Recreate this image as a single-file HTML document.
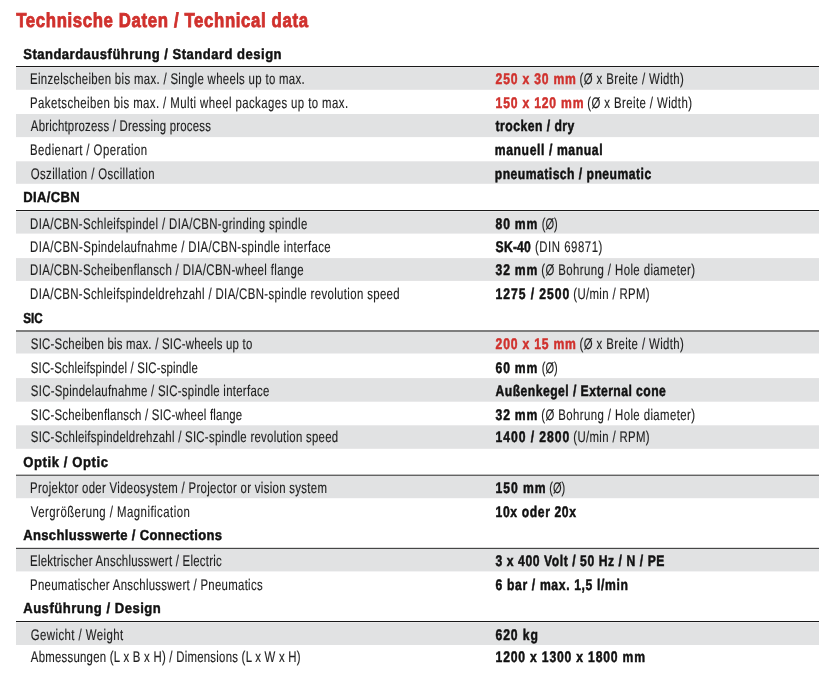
<!DOCTYPE html><html><head><meta charset="utf-8"><style>html,body{margin:0;padding:0;background:#fff;overflow:hidden}svg{display:block;will-change:transform}text{font-family:"Liberation Sans",sans-serif;}</style></head><body>
<svg width="832" height="686" viewBox="0 0 832 686" text-rendering="geometricPrecision">
<rect x="0" y="0" width="832" height="686" fill="#fff"/>
<rect x="16.0" y="67.20" width="803.0" height="22.60" fill="#e1e2e3"/>
<rect x="16.0" y="114.00" width="803.0" height="23.10" fill="#e1e2e3"/>
<rect x="16.0" y="161.30" width="803.0" height="22.50" fill="#e1e2e3"/>
<rect x="16.0" y="66.00" width="803.0" height="1.00" fill="#1a1a1a"/>
<rect x="16.0" y="211.30" width="803.0" height="22.30" fill="#e1e2e3"/>
<rect x="16.0" y="258.10" width="803.0" height="22.80" fill="#e1e2e3"/>
<rect x="16.0" y="210.00" width="803.0" height="1.00" fill="#1a1a1a"/>
<rect x="16.0" y="332.00" width="803.0" height="21.50" fill="#e1e2e3"/>
<rect x="16.0" y="378.10" width="803.0" height="23.60" fill="#e1e2e3"/>
<rect x="16.0" y="425.30" width="803.0" height="23.50" fill="#e1e2e3"/>
<rect x="16.0" y="330.44" width="803.0" height="1.12" fill="#1a1a1a"/>
<rect x="16.0" y="476.00" width="803.0" height="22.20" fill="#e1e2e3"/>
<rect x="16.0" y="474.72" width="803.0" height="0.95" fill="#1a1a1a"/>
<rect x="16.0" y="549.00" width="803.0" height="22.40" fill="#e1e2e3"/>
<rect x="16.0" y="547.85" width="803.0" height="0.95" fill="#1a1a1a"/>
<rect x="16.0" y="622.30" width="803.0" height="22.70" fill="#e1e2e3"/>
<rect x="16.0" y="621.00" width="803.0" height="1.00" fill="#1a1a1a"/>
<text transform="matrix(0.8400 0 0 1 16.20 26.70)" font-size="20.0" font-weight="bold" fill="#d0312d" stroke="#d0312d" stroke-width="0.8" vector-effect="non-scaling-stroke" letter-spacing="0.736">Technische Daten / Technical data</text>
<text transform="matrix(0.9000 0 0 1 23.20 59.40)" font-size="14.5" font-weight="bold" fill="#111111" stroke="#111111" stroke-width="0.45" vector-effect="non-scaling-stroke" letter-spacing="0.537">Standardausführung / Standard design</text>
<text transform="matrix(0.7400 0 0 1 30.06 83.70)" font-size="15.4" fill="#1f1f1f" stroke="#1f1f1f" stroke-width="0.15" vector-effect="non-scaling-stroke" letter-spacing="0.452">Einzelscheiben bis max. / Single wheels up to max.</text>
<text transform="matrix(0.7900 0 0 1 495.60 83.70)" font-size="15.4" font-weight="bold" fill="#d0312d" stroke="#d0312d" stroke-width="0.5" vector-effect="non-scaling-stroke" letter-spacing="1.002">250 x 30 mm</text>
<text transform="matrix(0.7400 0 0 1 579.60 83.70)" font-size="15.4" fill="#1f1f1f" stroke="#1f1f1f" stroke-width="0.15" vector-effect="non-scaling-stroke" letter-spacing="0.531">(Ø x Breite / Width)</text>
<text transform="matrix(0.7400 0 0 1 30.06 107.50)" font-size="15.4" fill="#1f1f1f" stroke="#1f1f1f" stroke-width="0.15" vector-effect="non-scaling-stroke" letter-spacing="0.565">Paketscheiben bis max. / Multi wheel packages up to max.</text>
<text transform="matrix(0.7900 0 0 1 495.60 107.50)" font-size="15.4" font-weight="bold" fill="#d0312d" stroke="#d0312d" stroke-width="0.5" vector-effect="non-scaling-stroke" letter-spacing="1.007">150 x 120 mm</text>
<text transform="matrix(0.7400 0 0 1 587.20 107.50)" font-size="15.4" fill="#1f1f1f" stroke="#1f1f1f" stroke-width="0.15" vector-effect="non-scaling-stroke" letter-spacing="0.567">(Ø x Breite / Width)</text>
<text transform="matrix(0.7400 0 0 1 30.80 131.30)" font-size="15.4" fill="#1f1f1f" stroke="#1f1f1f" stroke-width="0.15" vector-effect="non-scaling-stroke" letter-spacing="0.311">Abrichtprozess / Dressing process</text>
<text transform="matrix(0.7900 0 0 1 495.60 131.30)" font-size="15.4" font-weight="bold" fill="#111111" stroke="#111111" stroke-width="0.5" vector-effect="non-scaling-stroke" letter-spacing="0.599">trocken / dry</text>
<text transform="matrix(0.7400 0 0 1 30.06 154.55)" font-size="15.4" fill="#1f1f1f" stroke="#1f1f1f" stroke-width="0.15" vector-effect="non-scaling-stroke" letter-spacing="0.594">Bedienart / Operation</text>
<text transform="matrix(0.7900 0 0 1 494.81 154.55)" font-size="15.4" font-weight="bold" fill="#111111" stroke="#111111" stroke-width="0.5" vector-effect="non-scaling-stroke" letter-spacing="0.765">manuell / manual</text>
<text transform="matrix(0.7400 0 0 1 30.80 178.80)" font-size="15.4" fill="#1f1f1f" stroke="#1f1f1f" stroke-width="0.15" vector-effect="non-scaling-stroke" letter-spacing="0.521">Oszillation / Oscillation</text>
<text transform="matrix(0.7900 0 0 1 494.81 178.80)" font-size="15.4" font-weight="bold" fill="#111111" stroke="#111111" stroke-width="0.5" vector-effect="non-scaling-stroke" letter-spacing="0.599">pneumatisch / pneumatic</text>
<text transform="matrix(0.9000 0 0 1 23.20 201.80)" font-size="14.5" font-weight="bold" fill="#111111" stroke="#111111" stroke-width="0.45" vector-effect="non-scaling-stroke" letter-spacing="0.380">DIA/CBN</text>
<text transform="matrix(0.7400 0 0 1 30.06 228.80)" font-size="15.4" fill="#1f1f1f" stroke="#1f1f1f" stroke-width="0.15" vector-effect="non-scaling-stroke" letter-spacing="0.499">DIA/CBN-Schleifspindel / DIA/CBN-grinding spindle</text>
<text transform="matrix(0.7900 0 0 1 495.60 228.80)" font-size="15.4" font-weight="bold" fill="#111111" stroke="#111111" stroke-width="0.5" vector-effect="non-scaling-stroke" letter-spacing="0.986">80 mm</text>
<text transform="matrix(0.7196 0 0 1 541.70 228.80)" font-size="15.4" fill="#1f1f1f" stroke="#1f1f1f" stroke-width="0.15" vector-effect="non-scaling-stroke">(Ø)</text>
<text transform="matrix(0.7400 0 0 1 30.06 251.50)" font-size="15.4" fill="#1f1f1f" stroke="#1f1f1f" stroke-width="0.15" vector-effect="non-scaling-stroke" letter-spacing="0.527">DIA/CBN-Spindelaufnahme / DIA/CBN-spindle interface</text>
<text transform="matrix(0.7900 0 0 1 495.60 251.50)" font-size="15.4" font-weight="bold" fill="#111111" stroke="#111111" stroke-width="0.5" vector-effect="non-scaling-stroke" letter-spacing="0.246">SK-40</text>
<text transform="matrix(0.7400 0 0 1 534.90 251.50)" font-size="15.4" fill="#1f1f1f" stroke="#1f1f1f" stroke-width="0.15" vector-effect="non-scaling-stroke" letter-spacing="0.738">(DIN 69871)</text>
<text transform="matrix(0.7400 0 0 1 30.06 275.25)" font-size="15.4" fill="#1f1f1f" stroke="#1f1f1f" stroke-width="0.15" vector-effect="non-scaling-stroke" letter-spacing="0.497">DIA/CBN-Scheibenflansch / DIA/CBN-wheel flange</text>
<text transform="matrix(0.7900 0 0 1 495.60 275.25)" font-size="15.4" font-weight="bold" fill="#111111" stroke="#111111" stroke-width="0.5" vector-effect="non-scaling-stroke" letter-spacing="0.986">32 mm</text>
<text transform="matrix(0.7400 0 0 1 541.20 275.25)" font-size="15.4" fill="#1f1f1f" stroke="#1f1f1f" stroke-width="0.15" vector-effect="non-scaling-stroke" letter-spacing="0.563">(Ø Bohrung / Hole diameter)</text>
<text transform="matrix(0.7400 0 0 1 30.06 298.95)" font-size="15.4" fill="#1f1f1f" stroke="#1f1f1f" stroke-width="0.15" vector-effect="non-scaling-stroke" letter-spacing="0.492">DIA/CBN-Schleifspindeldrehzahl / DIA/CBN-spindle revolution speed</text>
<text transform="matrix(0.7900 0 0 1 495.60 298.95)" font-size="15.4" font-weight="bold" fill="#111111" stroke="#111111" stroke-width="0.5" vector-effect="non-scaling-stroke" letter-spacing="1.179">1275 / 2500</text>
<text transform="matrix(0.7400 0 0 1 573.30 298.95)" font-size="15.4" fill="#1f1f1f" stroke="#1f1f1f" stroke-width="0.15" vector-effect="non-scaling-stroke" letter-spacing="0.469">(U/min / RPM)</text>
<text transform="matrix(0.8057 0 0 1 23.20 323.00)" font-size="14.5" font-weight="bold" fill="#111111" stroke="#111111" stroke-width="0.45" vector-effect="non-scaling-stroke">SIC</text>
<text transform="matrix(0.7400 0 0 1 30.80 348.50)" font-size="15.4" fill="#1f1f1f" stroke="#1f1f1f" stroke-width="0.15" vector-effect="non-scaling-stroke" letter-spacing="0.328">SIC-Scheiben bis max. / SIC-wheels up to</text>
<text transform="matrix(0.7900 0 0 1 495.60 348.50)" font-size="15.4" font-weight="bold" fill="#d0312d" stroke="#d0312d" stroke-width="0.5" vector-effect="non-scaling-stroke" letter-spacing="1.002">200 x 15 mm</text>
<text transform="matrix(0.7400 0 0 1 579.60 348.50)" font-size="15.4" fill="#1f1f1f" stroke="#1f1f1f" stroke-width="0.15" vector-effect="non-scaling-stroke" letter-spacing="0.531">(Ø x Breite / Width)</text>
<text transform="matrix(0.7400 0 0 1 30.80 372.70)" font-size="15.4" fill="#1f1f1f" stroke="#1f1f1f" stroke-width="0.15" vector-effect="non-scaling-stroke" letter-spacing="0.244">SIC-Schleifspindel / SIC-spindle</text>
<text transform="matrix(0.7900 0 0 1 495.60 372.70)" font-size="15.4" font-weight="bold" fill="#111111" stroke="#111111" stroke-width="0.5" vector-effect="non-scaling-stroke" letter-spacing="0.986">60 mm</text>
<text transform="matrix(0.7196 0 0 1 541.70 372.70)" font-size="15.4" fill="#1f1f1f" stroke="#1f1f1f" stroke-width="0.15" vector-effect="non-scaling-stroke">(Ø)</text>
<text transform="matrix(0.7400 0 0 1 30.80 395.80)" font-size="15.4" fill="#1f1f1f" stroke="#1f1f1f" stroke-width="0.15" vector-effect="non-scaling-stroke" letter-spacing="0.382">SIC-Spindelaufnahme / SIC-spindle interface</text>
<text transform="matrix(0.7900 0 0 1 495.60 395.80)" font-size="15.4" font-weight="bold" fill="#111111" stroke="#111111" stroke-width="0.5" vector-effect="non-scaling-stroke" letter-spacing="0.581">Außenkegel / External cone</text>
<text transform="matrix(0.7400 0 0 1 30.80 419.50)" font-size="15.4" fill="#1f1f1f" stroke="#1f1f1f" stroke-width="0.15" vector-effect="non-scaling-stroke" letter-spacing="0.319">SIC-Scheibenflansch / SIC-wheel flange</text>
<text transform="matrix(0.7900 0 0 1 495.60 419.50)" font-size="15.4" font-weight="bold" fill="#111111" stroke="#111111" stroke-width="0.5" vector-effect="non-scaling-stroke" letter-spacing="0.986">32 mm</text>
<text transform="matrix(0.7400 0 0 1 541.20 419.50)" font-size="15.4" fill="#1f1f1f" stroke="#1f1f1f" stroke-width="0.15" vector-effect="non-scaling-stroke" letter-spacing="0.563">(Ø Bohrung / Hole diameter)</text>
<text transform="matrix(0.7400 0 0 1 30.80 442.20)" font-size="15.4" fill="#1f1f1f" stroke="#1f1f1f" stroke-width="0.15" vector-effect="non-scaling-stroke" letter-spacing="0.373">SIC-Schleifspindeldrehzahl / SIC-spindle revolution speed</text>
<text transform="matrix(0.7900 0 0 1 495.60 442.20)" font-size="15.4" font-weight="bold" fill="#111111" stroke="#111111" stroke-width="0.5" vector-effect="non-scaling-stroke" letter-spacing="1.179">1400 / 2800</text>
<text transform="matrix(0.7400 0 0 1 573.30 442.20)" font-size="15.4" fill="#1f1f1f" stroke="#1f1f1f" stroke-width="0.15" vector-effect="non-scaling-stroke" letter-spacing="0.469">(U/min / RPM)</text>
<text transform="matrix(0.9000 0 0 1 23.20 466.70)" font-size="14.5" font-weight="bold" fill="#111111" stroke="#111111" stroke-width="0.45" vector-effect="non-scaling-stroke" letter-spacing="0.674">Optik / Optic</text>
<text transform="matrix(0.7400 0 0 1 30.06 492.60)" font-size="15.4" fill="#1f1f1f" stroke="#1f1f1f" stroke-width="0.15" vector-effect="non-scaling-stroke" letter-spacing="0.435">Projektor oder Videosystem / Projector or vision system</text>
<text transform="matrix(0.7900 0 0 1 495.60 492.60)" font-size="15.4" font-weight="bold" fill="#111111" stroke="#111111" stroke-width="0.5" vector-effect="non-scaling-stroke" letter-spacing="1.178">150 mm</text>
<text transform="matrix(0.7196 0 0 1 549.30 492.60)" font-size="15.4" fill="#1f1f1f" stroke="#1f1f1f" stroke-width="0.15" vector-effect="non-scaling-stroke">(Ø)</text>
<text transform="matrix(0.7400 0 0 1 30.80 517.00)" font-size="15.4" fill="#1f1f1f" stroke="#1f1f1f" stroke-width="0.15" vector-effect="non-scaling-stroke" letter-spacing="0.639">Vergrößerung / Magnification</text>
<text transform="matrix(0.7900 0 0 1 495.60 517.00)" font-size="15.4" font-weight="bold" fill="#111111" stroke="#111111" stroke-width="0.5" vector-effect="non-scaling-stroke" letter-spacing="0.768">10x oder 20x</text>
<text transform="matrix(0.9000 0 0 1 23.20 539.90)" font-size="14.5" font-weight="bold" fill="#111111" stroke="#111111" stroke-width="0.45" vector-effect="non-scaling-stroke" letter-spacing="0.365">Anschlusswerte / Connections</text>
<text transform="matrix(0.7400 0 0 1 30.06 565.50)" font-size="15.4" fill="#1f1f1f" stroke="#1f1f1f" stroke-width="0.15" vector-effect="non-scaling-stroke" letter-spacing="0.353">Elektrischer Anschlusswert / Electric</text>
<text transform="matrix(0.7900 0 0 1 495.60 565.50)" font-size="15.4" font-weight="bold" fill="#111111" stroke="#111111" stroke-width="0.5" vector-effect="non-scaling-stroke" letter-spacing="0.707">3 x 400 Volt / 50 Hz / N / PE</text>
<text transform="matrix(0.7400 0 0 1 30.06 589.50)" font-size="15.4" fill="#1f1f1f" stroke="#1f1f1f" stroke-width="0.15" vector-effect="non-scaling-stroke" letter-spacing="0.404">Pneumatischer Anschlusswert / Pneumatics</text>
<text transform="matrix(0.7900 0 0 1 495.60 589.50)" font-size="15.4" font-weight="bold" fill="#111111" stroke="#111111" stroke-width="0.5" vector-effect="non-scaling-stroke" letter-spacing="0.806">6 bar / max. 1,5 l/min</text>
<text transform="matrix(0.9000 0 0 1 23.20 612.90)" font-size="14.5" font-weight="bold" fill="#111111" stroke="#111111" stroke-width="0.45" vector-effect="non-scaling-stroke" letter-spacing="0.571">Ausführung / Design</text>
<text transform="matrix(0.7400 0 0 1 30.80 640.00)" font-size="15.4" fill="#1f1f1f" stroke="#1f1f1f" stroke-width="0.15" vector-effect="non-scaling-stroke" letter-spacing="0.585">Gewicht / Weight</text>
<text transform="matrix(0.7900 0 0 1 495.60 640.00)" font-size="15.4" font-weight="bold" fill="#111111" stroke="#111111" stroke-width="0.5" vector-effect="non-scaling-stroke" letter-spacing="1.105">620 kg</text>
<text transform="matrix(0.7400 0 0 1 30.80 662.30)" font-size="15.4" fill="#1f1f1f" stroke="#1f1f1f" stroke-width="0.15" vector-effect="non-scaling-stroke" letter-spacing="0.340">Abmessungen (L x B x H) / Dimensions (L x W x H)</text>
<text transform="matrix(0.7900 0 0 1 495.60 662.30)" font-size="15.4" font-weight="bold" fill="#111111" stroke="#111111" stroke-width="0.5" vector-effect="non-scaling-stroke" letter-spacing="1.029">1200 x 1300 x 1800 mm</text>
</svg></body></html>
